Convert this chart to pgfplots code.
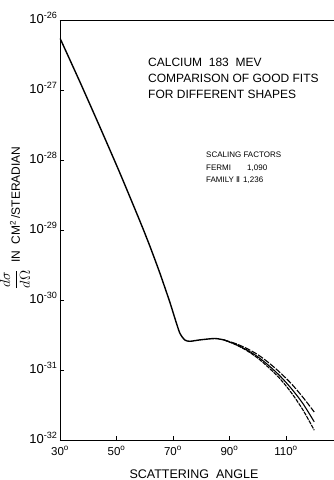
\documentclass[border=0pt]{standalone}
\usepackage{pgfplots}
\pgfplotsset{compat=1.18}
\usepackage{fontspec}
\setmainfont{Liberation Sans}
\newfontfamily\djv{DejaVu Sans}
\newcommand{\dg}{\textsuperscript{o}}
\begin{document}
\begin{tikzpicture}
\begin{axis}[
  at={(0pt,0pt)}, anchor=south west, scale only axis,
  width=274pt, height=420pt,
  xmin=30, xmax=127, ymin=-32, ymax=-26,
  axis x line*=box, axis y line*=left,
  xtick={30,50,70,90,110},
  xticklabels={30\dg,50\dg,70\dg,90\dg,110\dg},
  ytick={-32,-31,-30,-29,-28,-27,-26},
  yticklabels={10\textsuperscript{-32},10\textsuperscript{-31},10\textsuperscript{-30},10\textsuperscript{-29},10\textsuperscript{-28},10\textsuperscript{-27},10\textsuperscript{-26}},
  xtick pos=left, ytick pos=left, tick align=inside, major tick length=4pt,
  x tick label style={font=\fontsize{11.5}{11.5}\selectfont, yshift=-3pt},
  y tick label style={font=\fontsize{13}{13}\selectfont, xshift=1pt, yshift=2pt},
  axis line style={line width=0.9pt},
  tick style={line width=0.8pt, black},
]
% main curve (log10 of cross section)
\addplot[black, line width=1.4pt, smooth, tension=0.4] coordinates {
 (30,-26.26) (37.07,-26.886) (44.13,-27.529) (51.2,-28.186) (58.27,-28.871)
 (61.8,-29.229) (65.34,-29.614) (68.87,-30.029) (70.64,-30.257)
 (72.4,-30.471) (74.17,-30.571) (76,-30.59) (79.5,-30.57)
 (84.8,-30.55) (88,-30.57)};
% upper branch (dashed)
\addplot[black, line width=1.1pt, smooth, dash pattern=on 6pt off 1.5pt] coordinates {
 (88,-30.57) (92,-30.62) (96,-30.69) (100,-30.78) (104,-30.90)
 (108,-31.04) (112,-31.20) (116,-31.39) (120,-31.60)};
% middle branch (solid)
\addplot[black, line width=1.1pt, smooth] coordinates {
 (88,-30.57) (92,-30.63) (96,-30.71) (100,-30.81) (104,-30.94)
 (108,-31.09) (112,-31.27) (116,-31.48) (120,-31.74)};
% lower branch (dashed)
\addplot[black, line width=1.1pt, smooth, dash pattern=on 4pt off 1pt] coordinates {
 (88,-30.57) (92,-30.635) (96,-30.72) (100,-30.83) (104,-30.97)
 (108,-31.13) (112,-31.33) (116,-31.57) (120,-31.86)};
\end{axis}
% title
\node[anchor=base west, font=\fontsize{12}{12}\selectfont, inner sep=0pt] at (88pt,373pt) {CALCIUM\ \ 183\ \ MEV};
\node[anchor=base west, font=\fontsize{12}{12}\selectfont, inner sep=0pt] at (88pt,357pt) {COMPARISON OF GOOD FITS};
\node[anchor=base west, font=\fontsize{12}{12}\selectfont, inner sep=0pt] at (88pt,341pt) {FOR DIFFERENT SHAPES};
% scaling factors
\node[anchor=base west, font=\fontsize{8}{8}\selectfont, inner sep=0pt] at (146pt,282pt) {SCALING FACTORS};
\node[anchor=base west, font=\fontsize{8}{8}\selectfont, inner sep=0pt] at (146pt,269pt) {FERMI};
\node[anchor=base west, font=\fontsize{8}{8}\selectfont, inner sep=0pt] at (187pt,269pt) {1,090};
\node[anchor=base west, font=\fontsize{8}{8}\selectfont, inner sep=0pt] at (146pt,257pt) {FAMILY};
\node[anchor=base west, font=\fontsize{8}{8}\selectfont, inner sep=0pt] at (176pt,257pt) {{\djv Ⅱ}};
\node[anchor=base west, font=\fontsize{8}{8}\selectfont, inner sep=0pt] at (183pt,257pt) {1,236};
% axis labels
\node[anchor=base, font=\fontsize{12.5}{12.5}\selectfont, inner sep=0pt] at (134pt,-38pt) {SCATTERING\ \ ANGLE};
\node[rotate=90, anchor=center, font=\fontsize{12}{12}\selectfont, inner sep=0pt] at (-45pt,222pt)
  {{\fontsize{15}{15}\selectfont$\displaystyle\frac{d\sigma}{d\Omega}$}\ \ IN\ \ CM\textsuperscript{2}\,/STERADIAN};
\pgfresetboundingbox
\path (-60pt,-40pt) rectangle (274pt,440pt);
\end{tikzpicture}
\end{document}
